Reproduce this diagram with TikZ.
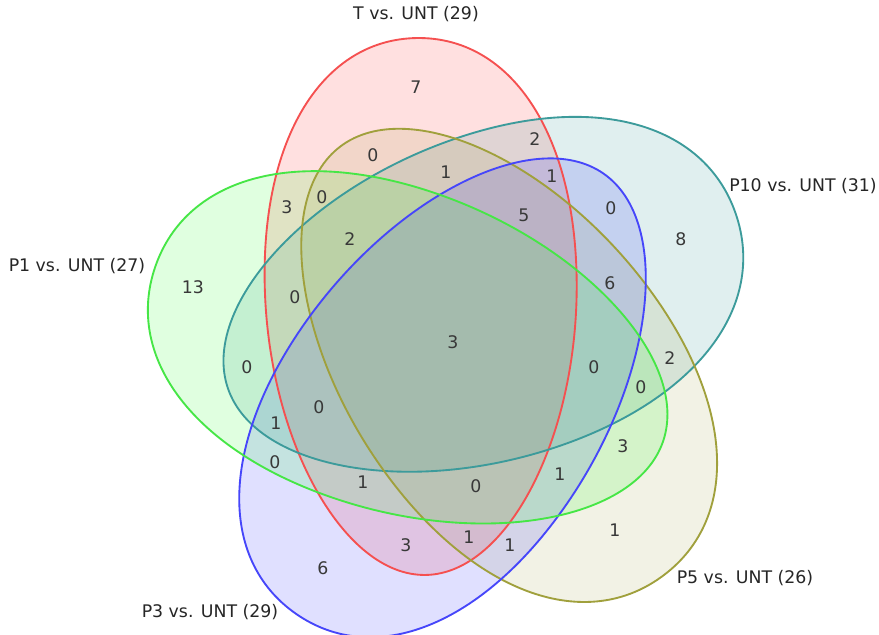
\documentclass[tikz,border=0pt]{standalone}
\usepackage{fontspec}
\setmainfont{DejaVu Sans}
\begin{document}
\begin{tikzpicture}[x=0.75pt,y=-0.75pt,
  setfill/.style={fill=#1,fill opacity=0.12,draw=none},
  setline/.style={draw=#1,line width=1.4pt},
  count/.style={text=black!78,font=\fontsize{13}{15}\selectfont,inner sep=0pt},
  setname/.style={text=black!85,font=\fontsize{13}{15}\selectfont,inner sep=0pt}]
\definecolor{cT}{RGB}{245,80,80}
\definecolor{cP10}{RGB}{60,155,155}
\definecolor{cP5}{RGB}{160,160,60}
\definecolor{cP3}{RGB}{70,70,250}
\definecolor{cP1}{RGB}{70,230,70}
\definecolor{fT}{RGB}{255,0,0}
\definecolor{fP10}{RGB}{0,128,128}
\definecolor{fP5}{RGB}{128,128,0}
\definecolor{fP3}{RGB}{0,0,255}
\definecolor{fP1}{RGB}{0,255,0}
\useasboundingbox (0,0) rectangle (879,635);
\fill[white] (0,0) rectangle (879,635);
% one egg-shaped set outline: fuller end along +x, tapering end along -x
\def\egg{(262,0) .. controls (262,94) and (165,156) .. (20,156)
  .. controls (-136,156) and (-275,83) .. (-275,0)
  .. controls (-275,-83) and (-136,-156) .. (20,-156)
  .. controls (165,-156) and (262,-94) .. (262,0) -- cycle}
% placement of each set (shift, turn)
\tikzset{
  posT/.style={shift={(421,300)},rotate=91},
  posP10/.style={shift={(488,299)},rotate=19,yscale=1.04},
  posP5/.style={shift={(506,366)},rotate=-53,yscale=1.03},
  posP3/.style={shift={(446,399)},rotate=-125,yscale=1.02},
  posP1/.style={shift={(403,352)},rotate=161,yscale=1.03}}
% fills
\begin{scope}[posT]\path[setfill=fT] \egg;\end{scope}
\begin{scope}[posP10]\path[setfill=fP10] \egg;\end{scope}
\begin{scope}[posP5]\path[setfill=fP5,fill opacity=0.10] \egg;\end{scope}
\begin{scope}[posP3]\path[setfill=fP3] \egg;\end{scope}
\begin{scope}[posP1]\path[setfill=fP1] \egg;\end{scope}
% outlines
\begin{scope}[posT]\draw[setline=cT] \egg;\end{scope}
\begin{scope}[posP10]\draw[setline=cP10] \egg;\end{scope}
\begin{scope}[posP5]\draw[setline=cP5] \egg;\end{scope}
\begin{scope}[posP3]\draw[setline=cP3] \egg;\end{scope}
\begin{scope}[posP1]\draw[setline=cP1] \egg;\end{scope}
% set names
\node[setname] (nT) at (416,14) {T vs. UNT (29)};
\node[setname] (nP10) at (803,186) {P10 vs. UNT (31)};
\node[setname] (nP1) at (77,266) {P1 vs. UNT (27)};
\node[setname] (nP3) at (210,612) {P3 vs. UNT (29)};
\node[setname] (nP5) at (745,578) {P5 vs. UNT (26)};
% region counts
\node[count] (r1) at (416,87) {7};
\node[count] (r2) at (373,155) {0};
\node[count] (r3) at (446,172) {1};
\node[count] (r4) at (535,139) {2};
\node[count] (r5) at (552,176) {1};
\node[count] (r6) at (287,207) {3};
\node[count] (r7) at (322,197) {0};
\node[count] (r8) at (524,215) {5};
\node[count] (r9) at (611,208) {0};
\node[count] (r10) at (681,239) {8};
\node[count] (r11) at (350,239) {2};
\node[count] (r12) at (193,287) {13};
\node[count] (r13) at (295,297) {0};
\node[count] (r14) at (610,283) {6};
\node[count] (r15) at (453,342) {3};
\node[count] (r16) at (247,367) {0};
\node[count] (r17) at (594,367) {0};
\node[count] (r18) at (670,358) {2};
\node[count] (r19) at (641,387) {0};
\node[count] (r20) at (319,407) {0};
\node[count] (r21) at (276,423) {1};
\node[count] (r22) at (623,446) {3};
\node[count] (r23) at (275,462) {0};
\node[count] (r24) at (363,482) {1};
\node[count] (r25) at (476,486) {0};
\node[count] (r26) at (560,474) {1};
\node[count] (r27) at (615,530) {1};
\node[count] (r28) at (406,545) {3};
\node[count] (r29) at (469,537) {1};
\node[count] (r30) at (510,545) {1};
\node[count] (r31) at (323,568) {6};
\end{tikzpicture}
\end{document}
